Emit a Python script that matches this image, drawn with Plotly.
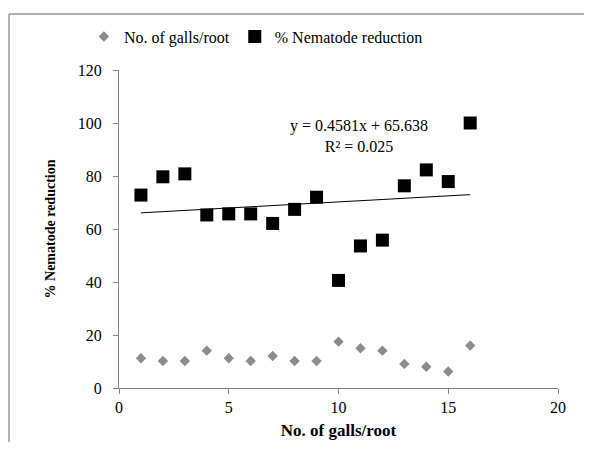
import plotly.graph_objects as go

# ---- data ----
x_vals = list(range(1, 17))
galls_per_root = [11.2, 10.2, 10.2, 14.1, 11.2, 10.2, 12.1, 10.2, 10.2, 17.5, 15.0, 14.1, 9.1, 8.0, 6.2, 16.0]
nematode_reduction = [72.8, 79.7, 80.8, 65.3, 65.7, 65.7, 62.1, 67.4, 72.0, 40.6, 53.6, 55.8, 76.3, 82.3, 77.9, 100.0]

trend_slope = 0.4581
trend_intercept = 65.638
trend_r2 = 0.025

x_ticks = [0, 5, 10, 15, 20]
y_ticks = [0, 20, 40, 60, 80, 100, 120]

FONT = "Liberation Serif"
AXIS_GREY = "#868686"
FRAME_GREY = "#999999"

trend_x = [min(x_vals), max(x_vals)]
trend_y = [trend_slope * v + trend_intercept for v in trend_x]

fig = go.Figure()
fig.add_trace(go.Scatter(
    x=x_vals, y=galls_per_root, mode="markers", name="No. of galls/root",
    marker=dict(symbol="diamond", size=8, color="#8c8c8c"),
))
fig.add_trace(go.Scatter(
    x=x_vals, y=nematode_reduction, mode="markers", name="% Nematode reduction",
    marker=dict(symbol="square", size=13, color="#000000"),
))
fig.add_trace(go.Scatter(
    x=trend_x, y=trend_y, mode="lines", showlegend=False,
    line=dict(color="#000000", width=1), hoverinfo="skip",
))

fig.add_annotation(
    x=10.95, y=95.2, xref="x", yref="y", showarrow=False,
    text=f"y = {trend_slope}x + {trend_intercept}<br>R² = {trend_r2}",
    font=dict(family=FONT, size=16, color="#000000"), align="center",
)

# outer chart frame (top and left edges visible)
fig.add_shape(type="line", xref="paper", yref="paper",
              x0=-0.2505, x1=1.06, y0=1.176, y1=1.176,
              line=dict(color=FRAME_GREY, width=1.5))
fig.add_shape(type="line", xref="paper", yref="paper",
              x0=-0.2505, x1=-0.2505, y0=-0.17, y1=1.176,
              line=dict(color=FRAME_GREY, width=1.5))

fig.update_layout(
    width=576, height=434,
    margin=dict(l=111, r=26, t=62, b=54, autoexpand=False),
    paper_bgcolor="white", plot_bgcolor="white",
    font=dict(family=FONT, size=15, color="#000000"),
    showlegend=True,
    legend=dict(
        orientation="h", x=-0.08, y=1.105, xanchor="left", yanchor="middle",
        font=dict(family=FONT, size=16), itemwidth=30,
        bgcolor="rgba(0,0,0,0)",
    ),
    xaxis=dict(
        range=[0, 20], tickvals=x_ticks, showgrid=False, zeroline=False,
        showline=True, linecolor=AXIS_GREY, linewidth=1, automargin=False,
        ticks="outside", ticklen=5, tickcolor=AXIS_GREY,
        tickfont=dict(family=FONT, size=16),
        title=dict(text="<b>No. of galls/root</b>", font=dict(family=FONT, size=17), standoff=8),
    ),
    yaxis=dict(
        range=[0, 120], tickvals=y_ticks, showgrid=False, zeroline=False,
        showline=True, linecolor=AXIS_GREY, linewidth=1, automargin=False,
        ticks="outside", ticklen=5, tickcolor=AXIS_GREY,
        tickfont=dict(family=FONT, size=16), ticklabelstandoff=8,
        title=dict(text="<b>% Nematode reduction</b>", font=dict(family=FONT, size=14), standoff=18),
    ),
)

fig.write_html("out.html")
